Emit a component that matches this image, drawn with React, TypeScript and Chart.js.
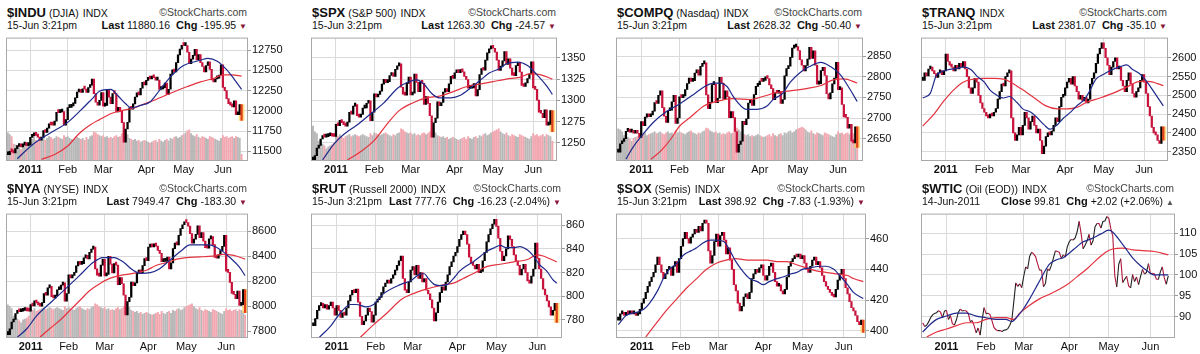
import React, { useEffect, useRef } from 'react';
import { Chart, registerables } from 'chart.js';

Chart.register(...registerables);

// ---------- shared axis data ----------
const MONTH_IDX = [12, 32, 51, 74, 94, 115];
const MONTH_LABELS = ['2011', 'Feb', 'Mar', 'Apr', 'May', 'Jun'];

// ---------- $INDU ----------
const INDU_CLOSE = [
  11457, 11499, 11492, 11478, 11533, 11559, 11573, 11555, 11576, 11585, 11570, 11578,
  11671, 11691, 11723, 11697, 11675, 11637, 11672, 11755, 11732, 11787, 11838, 11825, 11823, 11872, 11981, 11977, 11985, 11990, 11824, 11892,
  12040, 12042, 12062, 12092, 12162, 12233, 12240, 12229, 12273, 12268, 12227, 12288, 12318, 12391, 12213, 12106, 12069, 12130, 12226,
  12058, 12067, 12258, 12170, 12090, 12214, 12213, 11985, 12044, 11993, 11855, 11613, 11775, 11859, 12037, 12019, 12086, 12171, 12221, 12198, 12279, 12351, 12320,
  12377, 12400, 12394, 12427, 12409, 12380, 12381, 12264, 12271, 12285, 12342, 12202, 12267, 12454, 12506, 12480, 12595, 12691, 12763, 12811,
  12807, 12808, 12724, 12584, 12639, 12685, 12760, 12630, 12696, 12596, 12548, 12480, 12560, 12605, 12512, 12381, 12356, 12395, 12403, 12442, 12570,
  12290, 12249, 12151, 12090, 12071, 12049, 12124, 11952, 11953, 12076, 11880,
];
const INDU_VOL = [
  290, 270, 250, 170, 160, 150, 130, 110, 140, 150, 160, 170,
  230, 220, 240, 210, 200, 220, 230, 240, 210, 230, 250, 240, 220, 230, 250, 240, 230, 220, 260, 240,
  250, 230, 220, 210, 220, 240, 230, 220, 230, 210, 240, 220, 250, 260, 300, 290, 270, 260, 250,
  260, 240, 250, 230, 240, 230, 250, 260, 240, 250, 280, 320, 290, 270, 230, 220, 210, 220, 200, 210, 190, 200, 210,
  200, 190, 180, 190, 200, 210, 190, 220, 200, 190, 210, 220, 200, 230, 220, 240, 250, 230, 240, 260,
  270, 290, 310, 320, 280, 260, 250, 270, 240, 230, 250, 240, 230, 220, 250, 240, 230, 220, 210, 200, 230,
  260, 240, 250, 230, 240, 250, 230, 250, 240, 230, 60,
];
const INDU_MA20 = [[5, 11408], [13, 11578], [22, 11717], [32, 11857], [39, 12008], [45, 12148], [49, 12242], [55, 12265], [59, 12183], [63, 12087], [66, 12035], [71, 12067], [76, 12110], [81, 12250], [87, 12420], [94, 12560], [103, 12625], [107, 12649], [112, 12614], [117, 12509], [121, 12393], [125, 12265]];
const INDU_MA50 = [[18, 11400], [25, 11461], [32, 11565], [38, 11717], [43, 11810], [49, 11891], [56, 11973], [62, 12008], [67, 12032], [72, 12078], [76, 12110], [87, 12218], [96, 12300], [103, 12358], [110, 12400], [115, 12445], [120, 12445], [125, 12428]];
const INDU_TICKS = [11500, 11750, 12000, 12250, 12500, 12750];

// ---------- $SPX ----------
const SPX_CLOSE = [
  1228.0, 1235.2, 1243.9, 1247.1, 1254.6, 1258.8, 1256.8, 1257.5, 1258.5, 1259.8, 1257.9, 1257.6,
  1271.9, 1270.2, 1276.6, 1273.9, 1271.5, 1269.8, 1274.5, 1286.0, 1283.8, 1293.2, 1295.0, 1281.9, 1280.3, 1283.4, 1290.8, 1291.2, 1296.6, 1299.5, 1276.3, 1286.1,
  1307.6, 1304.0, 1307.1, 1310.9, 1319.1, 1324.6, 1320.9, 1321.9, 1329.2, 1332.3, 1328.0, 1336.3, 1340.4, 1343.0, 1315.4, 1307.4, 1306.1, 1319.9, 1327.2,
  1306.3, 1308.4, 1331.0, 1321.2, 1310.1, 1321.8, 1320.0, 1295.1, 1304.3, 1296.4, 1281.9, 1256.9, 1273.7, 1279.2, 1298.4, 1293.8, 1297.5, 1309.7, 1313.8, 1310.2, 1319.4, 1328.3, 1325.8,
  1332.4, 1332.9, 1332.6, 1335.5, 1333.5, 1328.2, 1324.5, 1314.2, 1314.4, 1314.5, 1319.7, 1305.1, 1312.6, 1330.4, 1337.4, 1335.3, 1347.2, 1355.7, 1360.5, 1363.6,
  1361.2, 1356.6, 1347.3, 1335.1, 1340.2, 1346.3, 1357.2, 1342.1, 1348.7, 1337.8, 1329.5, 1329.0, 1340.7, 1343.6, 1333.3, 1317.4, 1316.3, 1320.5, 1325.7, 1331.1, 1345.2,
  1314.6, 1312.9, 1300.2, 1286.2, 1284.9, 1279.6, 1289.0, 1271.0, 1271.8, 1287.9, 1263.3,
];
const SPX_VOL = [
  360, 300, 280, 200, 180, 170, 150, 120, 140, 150, 160, 180,
  260, 250, 270, 240, 230, 250, 260, 270, 250, 260, 270, 260, 250, 260, 270, 260, 250, 240, 280, 260,
  290, 280, 270, 260, 270, 280, 290, 270, 260, 250, 270, 260, 280, 290, 330, 320, 300, 290, 280,
  290, 270, 280, 260, 270, 260, 280, 290, 270, 280, 300, 340, 310, 290, 260, 250, 240, 250, 230, 240, 220, 230, 240,
  230, 220, 210, 220, 230, 240, 220, 250, 230, 220, 240, 250, 230, 260, 250, 270, 280, 260, 270, 290,
  300, 310, 320, 330, 300, 280, 270, 290, 260, 250, 270, 260, 250, 240, 270, 260, 250, 240, 230, 220, 250,
  280, 260, 270, 250, 260, 270, 250, 270, 260, 250, 200,
];
const SPX_MA20 = [[5, 1230], [11, 1249], [16, 1260], [23, 1271], [30, 1284], [37, 1297], [44, 1314], [49, 1321], [54, 1324], [58, 1319], [62, 1308], [66, 1303], [72, 1303], [77, 1306], [82, 1314], [87, 1323], [92, 1332], [98, 1338], [101, 1343], [107, 1345], [112, 1341], [117, 1330], [122, 1317], [125, 1307]];
const SPX_MA50 = [[18, 1230], [25, 1240], [32, 1253], [39, 1273], [45, 1288], [52, 1297], [59, 1303], [66, 1305], [73, 1310], [80, 1316], [87, 1319], [94, 1322], [101, 1325], [108, 1327], [113, 1331], [119, 1330], [125, 1325]];
const SPX_TICKS = [1250, 1275, 1300, 1325, 1350];

// ---------- $COMPQ ----------
const COMPQ_CLOSE = [
  2617.2, 2637.5, 2643.0, 2649.6, 2667.6, 2671.5, 2665.6, 2667.3, 2662.9, 2666.9, 2663.0, 2652.9,
  2691.5, 2681.3, 2702.2, 2709.9, 2703.2, 2707.8, 2716.8, 2737.3, 2735.3, 2755.3, 2765.9, 2725.4, 2704.3, 2689.5, 2717.6, 2719.2, 2739.5, 2755.3, 2686.9, 2700.1,
  2751.2, 2749.6, 2753.9, 2769.3, 2784.0, 2797.1, 2789.1, 2790.5, 2809.4, 2817.2, 2804.4, 2825.6, 2831.6, 2834.0, 2756.4, 2723.0, 2737.9, 2781.1, 2782.3,
  2737.4, 2748.1, 2798.7, 2784.7, 2745.6, 2765.8, 2751.7, 2701.0, 2715.6, 2701.0, 2667.3, 2616.8, 2636.1, 2643.7, 2692.1, 2683.9, 2698.3, 2736.4, 2743.1, 2730.7, 2756.9, 2776.8, 2781.1,
  2789.6, 2789.2, 2791.2, 2799.8, 2796.1, 2780.4, 2771.5, 2744.8, 2761.5, 2760.2, 2764.6, 2735.4, 2745.0, 2802.5, 2820.2, 2825.9, 2847.5, 2869.9, 2872.5, 2873.5,
  2864.1, 2841.6, 2828.2, 2814.7, 2827.6, 2843.3, 2871.9, 2845.1, 2863.0, 2828.5, 2782.3, 2783.2, 2815.0, 2823.3, 2803.3, 2758.9, 2746.2, 2761.4, 2782.9, 2796.9, 2835.3,
  2769.2, 2773.3, 2732.8, 2702.6, 2701.6, 2675.4, 2684.9, 2643.7, 2639.7, 2678.7, 2628.3,
];
const COMPQ_VOL = [
  330, 320, 300, 260, 250, 240, 220, 200, 230, 240, 250, 260,
  280, 270, 290, 260, 270, 280, 290, 300, 280, 290, 300, 280, 270, 290, 300, 280, 290, 270, 310, 290,
  300, 290, 280, 270, 290, 300, 310, 290, 280, 270, 290, 280, 300, 310, 340, 330, 310, 300, 290,
  300, 280, 290, 270, 280, 270, 290, 300, 280, 290, 310, 340, 320, 300, 280, 270, 260, 270, 250, 260, 250, 260, 270,
  260, 250, 240, 250, 260, 270, 250, 280, 260, 250, 270, 280, 260, 290, 280, 300, 310, 290, 300, 320,
  330, 340, 350, 340, 320, 300, 290, 310, 280, 270, 290, 280, 270, 260, 290, 280, 270, 260, 250, 240, 270,
  300, 280, 290, 270, 280, 290, 270, 290, 280, 270, 250,
];
const COMPQ_MA20 = [[4, 2600], [8, 2631], [13, 2661], [18, 2688], [25, 2715], [32, 2734], [39, 2756], [45, 2776], [50, 2785], [53, 2785], [57, 2776], [60, 2753], [64, 2730], [67, 2721], [72, 2721], [78, 2730], [81, 2745], [86, 2760], [90, 2787], [95, 2810], [100, 2825], [106, 2835], [111, 2825], [116, 2806], [120, 2779], [125, 2740]];
const COMPQ_MA50 = [[17, 2600], [22, 2619], [27, 2646], [32, 2680], [38, 2703], [45, 2730], [52, 2741], [60, 2747], [69, 2745], [76, 2753], [83, 2762], [90, 2766], [99, 2772], [106, 2779], [112, 2792], [118, 2795], [125, 2785]];
const COMPQ_TICKS = [2650, 2700, 2750, 2800, 2850];

// ---------- $TRANQ ----------
const TRANQ_CLOSE = [
  2540, 2560, 2552, 2570, 2575, 2565, 2558, 2548, 2560, 2566, 2555, 2565,
  2610, 2590, 2580, 2575, 2565, 2580, 2570, 2585, 2575, 2590, 2570, 2550, 2520, 2505, 2520, 2545, 2535, 2500, 2480, 2465,
  2455, 2445, 2440, 2450, 2445, 2455, 2465, 2490, 2510, 2530, 2525, 2550, 2560, 2565, 2440, 2400, 2380, 2395, 2415,
  2395, 2420, 2455, 2440, 2410, 2430, 2445, 2420, 2400, 2410, 2380, 2345, 2365, 2390, 2400, 2395, 2405, 2420, 2440, 2430, 2470, 2495, 2500,
  2520, 2535, 2545, 2530, 2550, 2525, 2510, 2490, 2500, 2485, 2495, 2480, 2490, 2530, 2545, 2560, 2585, 2610, 2625, 2640,
  2625, 2600, 2580, 2555, 2575, 2590, 2600, 2570, 2575, 2540, 2525, 2510, 2540, 2560, 2530, 2505, 2495, 2510, 2520, 2540, 2555,
  2535, 2505, 2470, 2445, 2415, 2400, 2395, 2380, 2372, 2416, 2381,
];
const TRANQ_MA20 = [[0, 2493], [4, 2506], [7, 2552], [11, 2565], [14, 2569], [18, 2572], [21, 2576], [25, 2569], [28, 2552], [32, 2535], [35, 2514], [38, 2502], [42, 2493], [45, 2497], [49, 2481], [52, 2464], [56, 2456], [59, 2443], [63, 2422], [66, 2410], [70, 2422], [73, 2439], [77, 2456], [80, 2472], [84, 2489], [87, 2514], [90, 2543], [94, 2556], [97, 2565], [103, 2577], [106, 2581], [109, 2569], [113, 2556], [116, 2539], [120, 2510], [125, 2472]];
const TRANQ_MA50 = [[0, 2418], [6, 2451], [11, 2485], [16, 2514], [21, 2535], [26, 2543], [32, 2545], [37, 2545], [42, 2543], [45, 2537], [51, 2518], [58, 2493], [64, 2472], [70, 2464], [75, 2464], [80, 2468], [85, 2481], [92, 2493], [99, 2506], [106, 2522], [113, 2537], [117, 2537], [125, 2526]];
const TRANQ_TICKS = [2350, 2400, 2450, 2500, 2550, 2600];

// ---------- $NYA ----------
const NYA_CLOSE = [
  7773, 7819, 7874, 7894, 7942, 7968, 7956, 7960, 7966, 7975, 7963, 7961,
  8013, 8002, 8043, 8026, 8010, 8000, 8029, 8102, 8088, 8147, 8159, 8076, 8066, 8085, 8132, 8135, 8169, 8187, 8041, 8102,
  8251, 8228, 8248, 8272, 8324, 8358, 8335, 8341, 8387, 8407, 8380, 8432, 8458, 8474, 8300, 8250, 8241, 8329, 8375,
  8243, 8256, 8399, 8337, 8267, 8341, 8329, 8172, 8230, 8180, 8089, 7931, 8037, 8072, 8193, 8164, 8187, 8264, 8290, 8267, 8325, 8382, 8366,
  8474, 8477, 8475, 8494, 8481, 8447, 8424, 8358, 8360, 8360, 8393, 8300, 8348, 8461, 8506, 8492, 8568, 8622, 8653, 8673,
  8671, 8642, 8582, 8505, 8537, 8576, 8645, 8549, 8591, 8522, 8469, 8466, 8540, 8559, 8493, 8392, 8385, 8412, 8445, 8479, 8569,
  8282, 8271, 8191, 8103, 8095, 8061, 8121, 8007, 8012, 8133, 7949,
];
const NYA_VOL = [
  340, 320, 300, 220, 200, 190, 170, 150, 180, 190, 200, 220,
  290, 280, 300, 270, 280, 290, 300, 310, 290, 300, 310, 300, 290, 300, 310, 300, 290, 280, 320, 300,
  310, 300, 290, 280, 300, 310, 320, 300, 290, 280, 300, 290, 310, 320, 350, 340, 320, 310, 300,
  310, 290, 300, 280, 290, 280, 300, 310, 290, 300, 320, 360, 330, 310, 280, 270, 260, 270, 250, 260, 240, 250, 260,
  250, 240, 230, 240, 250, 260, 240, 270, 250, 240, 260, 270, 250, 280, 270, 290, 300, 280, 290, 310,
  320, 330, 340, 350, 320, 300, 290, 310, 280, 270, 290, 280, 270, 260, 290, 280, 270, 260, 250, 240, 270,
  300, 280, 290, 270, 280, 290, 270, 290, 280, 270, 230,
];
const NYA_MA20 = [[5, 7754], [10, 7820], [15, 7921], [22, 8022], [31, 8149], [38, 8250], [45, 8352], [50, 8390], [56, 8390], [61, 8352], [66, 8288], [70, 8263], [75, 8269], [80, 8301], [85, 8364], [91, 8440], [96, 8491], [101, 8491], [106, 8491], [112, 8453], [117, 8390], [122, 8314], [125, 8245]];
const NYA_MA50 = [[17, 7754], [22, 7820], [28, 7896], [33, 7972], [38, 8048], [43, 8124], [49, 8187], [54, 8225], [59, 8246], [66, 8263], [73, 8288], [78, 8326], [84, 8352], [89, 8377], [94, 8390], [101, 8395], [108, 8402], [113, 8415], [119, 8408], [125, 8377]];
const NYA_TICKS = [7800, 8000, 8200, 8400, 8600];

// ---------- $RUT ----------
const RUT_CLOSE = [
  775, 781, 788, 792, 794, 790, 793, 789, 792, 795, 790, 784,
  792, 788, 782, 786, 784, 790, 796, 801, 805, 803, 806, 795, 783, 776, 779, 784, 790, 787, 778, 784,
  795, 797, 799, 803, 808, 811, 813, 811, 815, 818, 822, 826, 830, 834, 815, 805, 803, 812, 822,
  825, 818, 826, 815, 820, 812, 815, 805, 802, 797, 790, 779, 786, 795, 803, 808, 805, 812, 818, 825, 829, 834, 837,
  842, 848, 852, 855, 852, 844, 833, 828, 826, 823, 827, 820, 821, 830, 837, 846, 852, 857, 861, 865,
  859, 849, 838, 830, 834, 840, 851, 848, 842, 835, 830, 826, 818, 823, 827, 820, 813, 811, 817, 823, 845,
  832, 823, 815, 806, 801, 796, 791, 784, 788, 794, 777.8,
];
const RUT_MA20 = [[3, 765], [9, 775], [14, 786], [19, 793], [22, 793], [27, 791], [31, 793], [36, 802], [45, 810], [50, 813], [54, 818], [57, 819], [59, 815], [62, 810], [65, 809], [69, 810], [72, 815], [75, 821], [79, 826], [82, 829], [86, 834], [89, 838], [93, 841], [96, 843], [99, 841], [103, 841], [106, 842], [110, 839], [113, 834], [116, 827], [120, 821], [123, 814], [125, 811]];
const RUT_MA50 = [[24, 765], [31, 776], [38, 786], [45, 797], [51, 802], [58, 806], [65, 809], [72, 811], [77, 815], [82, 819], [89, 825], [96, 827], [103, 829], [110, 831], [115, 835], [118, 834], [125, 829]];
const RUT_TICKS = [780, 800, 820, 840, 860];

// ---------- $SOX ----------
const SOX_CLOSE = [
  407, 411, 412, 410, 412, 411, 413, 411, 412, 410, 411, 414,
  418, 421, 425, 429, 432, 435, 438, 443, 448, 443, 438, 434, 437, 440, 441, 436, 442, 445, 438, 447,
  455, 460, 464, 460, 457, 461, 463, 466, 464, 468, 465, 470, 472, 470, 452, 444, 449, 458, 463,
  455, 462, 464, 459, 450, 454, 446, 440, 430, 426, 418, 413, 416, 422, 424, 421, 425, 434, 437, 440, 438, 441, 443,
  436, 433, 436, 442, 444, 438, 432, 429, 430, 426, 424, 427, 435, 442, 445, 447, 449, 448, 450, 447,
  449, 444, 440, 438, 442, 446, 448, 443, 445, 441, 436, 432, 429, 427, 425, 423, 422, 427, 433, 437, 440,
  434, 428, 424, 419, 415, 413, 410, 406, 404, 407, 398.9,
];
const SOX_MA20 = [[0, 404], [4, 410], [9, 412], [13, 414], [16, 418], [20, 426], [23, 434], [26, 440], [30, 444], [33, 449], [37, 452], [40, 454], [43, 457], [47, 459], [50, 459], [54, 458], [57, 452], [60, 445], [64, 438], [67, 434], [71, 432], [74, 430], [77, 432], [81, 434], [84, 435], [88, 437], [91, 438], [94, 440], [98, 441], [103, 442], [106, 442], [110, 440], [113, 436], [117, 430], [120, 425], [125, 421]];
const SOX_MA50 = [[14, 396], [20, 406], [25, 414], [30, 421], [35, 428], [40, 434], [45, 440], [50, 444], [55, 446], [60, 447], [66, 446], [71, 446], [76, 446], [81, 445], [86, 445], [91, 443], [96, 441], [101, 439], [106, 438], [111, 437], [117, 436], [120, 434], [125, 432]];
const SOX_TICKS = [400, 420, 440, 460];

// ---------- $WTIC ----------
const WTIC_CLOSE = [
  88.62, 87.70, 88.02, 88.81, 89.82, 90.48, 90.83, 91.00, 91.49, 91.12, 89.84, 91.38,
  91.55, 89.38, 90.30, 88.38, 88.03, 89.25, 91.11, 91.86, 91.40, 91.54, 91.38, 90.86, 88.86, 89.11, 87.87, 86.19, 87.33, 85.64, 89.34, 92.19,
  90.77, 90.86, 90.54, 89.03, 87.48, 86.94, 86.71, 86.73, 86.50, 86.80, 86.90, 87.20, 88.00, 89.20, 93.57, 98.10, 97.28, 97.88, 96.97,
  99.63, 101.91, 101.44, 104.42, 105.44, 105.02, 104.38, 102.70, 101.16, 101.19, 97.18, 97.98, 101.42, 101.07, 102.33, 104.00, 105.75, 105.60, 105.40, 103.98, 104.79, 104.27, 106.72,
  107.94, 108.47, 108.34, 108.83, 110.30, 112.79, 109.92, 106.25, 107.11, 108.11, 109.66, 107.12, 108.15, 111.45, 112.29, 112.28, 111.21, 112.76, 112.86, 113.93,
  113.52, 111.05, 109.24, 99.80, 97.18, 102.55, 103.88, 98.21, 98.97, 99.65, 97.37, 96.91, 100.10, 98.44, 99.49, 97.70, 99.59, 101.32, 100.23, 100.59, 102.70,
  100.29, 100.40, 100.22, 99.01, 98.94, 100.74, 101.93, 99.29, 97.79, 99.81,
];
const WTIC_MA20 = [[0, 86.4], [4, 88.3], [7, 89.4], [12, 90.2], [17, 90.9], [22, 90.9], [27, 90.2], [32, 89.8], [37, 89.4], [42, 89.4], [45, 88.9], [48, 90.2], [51, 92], [54, 94.3], [58, 97.7], [61, 100.3], [64, 102.6], [68, 103.7], [71, 104.1], [74, 105.2], [78, 106.8], [81, 107.9], [85, 108.6], [90, 109.8], [94, 110.7], [96, 110.2], [100, 107.9], [103, 106], [106, 104.1], [110, 102.2], [113, 101.1], [117, 100], [120, 100], [124, 100]];
const WTIC_MA50 = [[2, 85.2], [7, 86.4], [12, 87.1], [17, 87.9], [22, 88.6], [27, 88.6], [32, 89.4], [37, 89.8], [42, 89.8], [46, 89.4], [49, 90.9], [54, 92.8], [59, 94.3], [64, 95.4], [69, 96.6], [73, 97.7], [78, 99.6], [83, 101.5], [88, 103.7], [93, 105.6], [96, 106.2], [101, 106.4], [106, 106], [111, 105.8], [117, 105.6], [124, 104.8]];
const WTIC_TICKS = [90, 95, 100, 105, 110];

// ---------- styling / layout ----------
const FONT = 'Arial, "Liberation Sans", Helvetica, sans-serif';
const GRID = '#dadada';
const BAR_UP = '#000000';
const BAR_DOWN = '#c8143c';
const VOL_UP = '#b8b8b8';
const VOL_DOWN = '#f2a8b1';
const MA_SHORT = '#1f2a8c';
const MA_LONG = '#e3333f';
const Y_AXIS_W = 40;
const X_AXIS_H = 18;
const ROW_TOP = [0, 176];
const PLOT_TOP = 32;
const PLOT_H = [128, 129];

type PanelDef = {
  sym: string; name: string; exch: string; date: string;
  lastLbl: string; last: string; chg: string; rising: boolean;
  close: number[]; vol: number[] | null; ma20: number[][]; ma50: number[][];
  ticks: number[]; yMin: number; yMax: number;
  left: number; right: number; row: number; xMin: number; xMax: number; line: boolean;
};

const PANELS: PanelDef[] = [
  { sym: '$INDU', name: '(DJIA)', exch: 'INDX', date: '15-Jun 3:21pm', lastLbl: 'Last', last: '11880.16', chg: '-195.95', rising: false,
    close: INDU_CLOSE, vol: INDU_VOL, ma20: INDU_MA20, ma50: INDU_MA50, ticks: INDU_TICKS, yMin: 11392, yMax: 12893,
    left: 7, right: 247, row: 0, xMin: -0.48, xMax: 127.9, line: false },
  { sym: '$SPX', name: '(S&P 500)', exch: 'INDX', date: '15-Jun 3:21pm', lastLbl: 'Last', last: '1263.30', chg: '-24.57', rising: false,
    close: SPX_CLOSE, vol: SPX_VOL, ma20: SPX_MA20, ma50: SPX_MA50, ticks: SPX_TICKS, yMin: 1230, yMax: 1372.5,
    left: 312, right: 556, row: 0, xMin: -0.52, xMax: 126.9, line: false },
  { sym: '$COMPQ', name: '(Nasdaq)', exch: 'INDX', date: '15-Jun 3:21pm', lastLbl: 'Last', last: '2628.32', chg: '-50.40', rising: false,
    close: COMPQ_CLOSE, vol: COMPQ_VOL, ma20: COMPQ_MA20, ma50: COMPQ_MA50, ticks: COMPQ_TICKS, yMin: 2598, yMax: 2893,
    left: 617, right: 862, row: 0, xMin: -0.68, xMax: 127.5, line: false },
  { sym: '$TRANQ', name: '', exch: 'INDX', date: '15-Jun 3:21pm', lastLbl: 'Last', last: '2381.07', chg: '-35.10', rising: false,
    close: TRANQ_CLOSE, vol: null, ma20: TRANQ_MA20, ma50: TRANQ_MA50, ticks: TRANQ_TICKS, yMin: 2328, yMax: 2651,
    left: 922, right: 1167, row: 0, xMin: -0.36, xMax: 126.9, line: false },
  { sym: '$NYA', name: '(NYSE)', exch: 'INDX', date: '15-Jun 3:21pm', lastLbl: 'Last', last: '7949.47', chg: '-183.30', rising: false,
    close: NYA_CLOSE, vol: NYA_VOL, ma20: NYA_MA20, ma50: NYA_MA50, ticks: NYA_TICKS, yMin: 7754, yMax: 8734,
    left: 7, right: 247, row: 1, xMin: -0.47, xMax: 126, line: false },
  { sym: '$RUT', name: '(Russell 2000)', exch: 'INDX', date: '15-Jun 3:21pm', lastLbl: 'Last', last: '777.76', chg: '-16.23 (-2.04%)', rising: false,
    close: RUT_CLOSE, vol: null, ma20: RUT_MA20, ma50: RUT_MA50, ticks: RUT_TICKS, yMin: 765.5, yMax: 869,
    left: 312, right: 561, row: 1, xMin: -0.67, xMax: 127.2, line: false },
  { sym: '$SOX', name: '(Semis)', exch: 'INDX', date: '15-Jun 3:21pm', lastLbl: 'Last', last: '398.92', chg: '-7.83 (-1.93%)', rising: false,
    close: SOX_CLOSE, vol: null, ma20: SOX_MA20, ma50: SOX_MA50, ticks: SOX_TICKS, yMin: 396, yMax: 475.6,
    left: 617, right: 865, row: 1, xMin: -0.66, xMax: 125.9, line: false },
  { sym: '$WTIC', name: '(Oil (EOD))', exch: 'INDX', date: '14-Jun-2011', lastLbl: 'Close', last: '99.81', chg: '+2.02 (+2.06%)', rising: true,
    close: WTIC_CLOSE, vol: null, ma20: WTIC_MA20, ma50: WTIC_MA50, ticks: WTIC_TICKS, yMin: 85.2, yMax: 114.4,
    left: 922, right: 1174, row: 1, xMin: -0.35, xMax: 126.9, line: true },
];

const framePlugin = {
  id: 'frame',
  afterDatasetsDraw(chart: any) {
    const { ctx, chartArea: a } = chart;
    ctx.save();
    ctx.strokeStyle = '#a8a8a8';
    ctx.lineWidth = 1;
    ctx.strokeRect(a.left - 0.5, a.top - 0.5, a.right - a.left + 1, a.bottom - a.top + 1);
    ctx.restore();
  },
};

function Header({ p }: { p: PanelDef }) {
  const width = p.right - p.left;
  const top = ROW_TOP[p.row];
  return (
    <div style={{ position: 'absolute', left: p.left, top, width, height: 32, fontFamily: FONT, color: '#111' }}>
      <div style={{ position: 'absolute', left: 0, top: 4, width, height: 16, lineHeight: '16px', display: 'flex', justifyContent: 'space-between', whiteSpace: 'nowrap' }}>
        <span>
          <b style={{ fontSize: 13 }}>{p.sym}</b>
          {p.name ? <span style={{ fontSize: 10.5, marginLeft: 3 }}>{p.name}</span> : null}
          <span style={{ fontSize: 10.5, marginLeft: 4 }}>{p.exch}</span>
        </span>
        <span style={{ fontSize: 10.5, color: '#444' }}>{'\u00A9StockCharts.com'}</span>
      </div>
      <div style={{ position: 'absolute', left: 0, top: 19, width, height: 13, lineHeight: '13px', display: 'flex', justifyContent: 'space-between', whiteSpace: 'nowrap', fontSize: 10.5 }}>
        <span>{p.date}</span>
        <span>
          <b style={{ fontSize: 11 }}>{p.lastLbl}</b>
          <span style={{ marginLeft: 3 }}>{p.last}</span>
          <b style={{ fontSize: 11, marginLeft: 6 }}>Chg</b>
          <span style={{ marginLeft: 3 }}>{p.chg}</span>
          <span style={{ marginLeft: 3, fontSize: 8, color: p.rising ? '#555' : '#8a1538' }}>{p.rising ? '\u25B2' : '\u25BC'}</span>
        </span>
      </div>
    </div>
  );
}

function Panel({ p }: { p: PanelDef }) {
  const ref = useRef<HTMLCanvasElement | null>(null);
  const plotW = p.right - p.left;
  const plotH = PLOT_H[p.row];
  const top = ROW_TOP[p.row] + PLOT_TOP;
  const cw = plotW + 1 + Y_AXIS_W;
  const chh = plotH + 1 + X_AXIS_H;

  useEffect(() => {
    const closes = p.close;
    const n = closes.length;
    const last = n - 1;
    const up = closes.map((c, i) => (i === 0 ? true : c >= closes[i - 1]));
    const datasets: any[] = [];

    if (p.vol) {
      datasets.push({
        type: 'bar', yAxisID: 'yv', grouped: false, order: 10,
        data: p.vol.map((v, i) => ({ x: i, y: v })),
        backgroundColor: p.vol.map((_, i) => (up[i] ? VOL_UP : VOL_DOWN)),
        barThickness: 1.3,
      });
    }

    if (!p.line) {
      datasets.push({
        type: 'bar', grouped: false, order: 6,
        data: [{ x: last, y: [closes[last - 1], closes[last]] }],
        backgroundColor: 'rgba(255,208,90,0.75)', barThickness: 5, minBarLength: 8,
      });
      datasets.push({
        type: 'bar', grouped: false, order: 5,
        data: closes.map((c, i) => ({ x: i, y: [i ? closes[i - 1] : c, c] })),
        backgroundColor: closes.map((_, i) => (i === last ? '#e2401c' : up[i] ? BAR_UP : BAR_DOWN)),
        barThickness: 1.6, minBarLength: 3,
      });
    } else {
      datasets.push({
        type: 'line', order: 5,
        data: closes.map((c, i) => ({ x: i, y: c })),
        borderWidth: 1.1, pointRadius: 0, borderColor: '#222',
        segment: { borderColor: (ctx: any) => (ctx.p1.parsed.y >= ctx.p0.parsed.y ? '#222222' : '#b0163c') },
      });
    }

    datasets.push({
      type: 'line', order: 2,
      data: p.ma50.map(([x, y]) => ({ x, y })),
      borderColor: MA_LONG, borderWidth: 1.2, pointRadius: 0, cubicInterpolationMode: 'monotone',
    });
    datasets.push({
      type: 'line', order: 1,
      data: p.ma20.map(([x, y]) => ({ x, y })),
      borderColor: MA_SHORT, borderWidth: 1.2, pointRadius: 0, cubicInterpolationMode: 'monotone',
    });

    const chart = new Chart(ref.current as HTMLCanvasElement, {
      type: 'bar',
      data: { datasets },
      options: {
        responsive: false,
        animation: false,
        devicePixelRatio: 1,
        events: [],
        layout: { padding: { left: 1, top: 1, right: 0, bottom: 0 } },
        plugins: { legend: { display: false }, tooltip: { enabled: false }, title: { display: false } },
        scales: {
          x: {
            type: 'linear', min: p.xMin, max: p.xMax, offset: false,
            grid: { color: GRID, drawTicks: false, offset: false, lineWidth: 1 },
            border: { display: false },
            afterBuildTicks: (s: any) => { s.ticks = MONTH_IDX.map((v) => ({ value: v })); },
            afterFit: (s: any) => { s.height = X_AXIS_H; },
            ticks: {
              padding: 3, color: '#111', maxRotation: 0, autoSkip: false,
              font: (c: any) => ({ family: FONT, size: 11, weight: c.index === 0 ? 'bold' : 'normal' }),
              callback: (v: any) => { const k = MONTH_IDX.indexOf(Number(v)); return k >= 0 ? MONTH_LABELS[k] : ''; },
            },
          },
          y: {
            type: 'linear', position: 'right', min: p.yMin, max: p.yMax,
            grid: { color: GRID, drawTicks: true, tickLength: 4, tickColor: '#9a9a9a', lineWidth: 1 },
            border: { display: false },
            afterBuildTicks: (s: any) => { s.ticks = p.ticks.map((v) => ({ value: v })); },
            afterFit: (s: any) => { s.width = Y_AXIS_W; },
            ticks: { padding: 1, color: '#111', font: { family: FONT, size: 11 }, callback: (v: any) => String(v) },
          },
          yv: { type: 'linear', display: false, min: 0, max: 1290 },
        },
      } as any,
      plugins: [framePlugin],
    } as any);
    return () => chart.destroy();
  }, []);

  return (
    <>
      <Header p={p} />
      <canvas
        ref={ref}
        width={cw}
        height={chh}
        style={{ position: 'absolute', left: p.left - 1, top: top - 1, width: cw, height: chh, display: 'block' }}
      />
    </>
  );
}

export default function App() {
  return (
    <div style={{ position: 'absolute', left: 0, top: 0, width: 1200, height: 354, overflow: 'hidden', background: '#fff' }}>
      {PANELS.map((p) => (
        <Panel key={p.sym} p={p} />
      ))}
    </div>
  );
}
